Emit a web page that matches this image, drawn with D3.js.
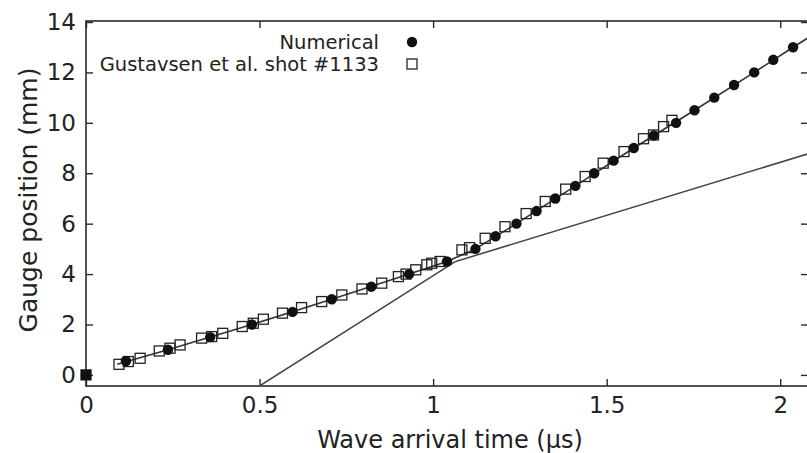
<!DOCTYPE html>
<html><head><meta charset="utf-8">
<script src="https://cdn.jsdelivr.net/npm/d3@7"></script>
<style>body{margin:0;background:#fff}svg{display:block}text{font-family:"DejaVu Sans",sans-serif;fill:#222}</style>
</head><body><svg id="c" width="807" height="453"></svg>
<script>
// Numerical (filled circles): time (µs), gauge position (mm)
const numT = [0,0.115,0.236,0.358,0.478,0.595,0.708,0.822,0.931,1.04,1.122,1.18,1.24,1.298,1.352,1.41,1.464,1.52,1.578,1.636,1.70,1.753,1.81,1.867,1.925,1.98,2.037];
const numX = [0,0.55,1.0,1.5,2.0,2.5,3.0,3.5,4.0,4.5,5.0,5.5,6.0,6.5,7.0,7.5,8.0,8.5,9.0,9.5,10.0,10.5,11.0,11.5,12.0,12.5,13.0];
// Gustavsen et al. shot #1133 (open squares)
const expT = [0,0.095,0.122,0.156,0.211,0.242,0.271,0.333,0.362,0.394,0.45,0.482,0.511,0.566,0.621,0.679,0.737,0.795,0.852,0.9,0.922,0.95,0.982,0.996,1.02,1.083,1.105,1.15,1.207,1.268,1.323,1.382,1.438,1.49,1.55,1.606,1.635,1.664,1.688];
const expX = [0,0.42,0.53,0.66,0.95,1.06,1.19,1.46,1.52,1.65,1.92,2.05,2.21,2.45,2.67,2.91,3.17,3.41,3.64,3.9,4.0,4.17,4.37,4.43,4.5,4.96,5.05,5.42,5.88,6.4,6.88,7.37,7.87,8.4,8.86,9.37,9.52,9.85,10.1];
// Fitted trajectory (black line)
const fitT = [0.09,0.236,0.478,0.708,0.931,1.04,1.122,1.24,1.41,1.578,1.753,1.925,2.037,2.08];
const fitX = [0.42,1.0,2.0,3.0,4.0,4.5,5.0,6.0,7.5,9.0,10.5,12.0,13.0,13.37];
// Wave-speed lines (gray)
const steepT = [0.5,1.065];
const steepX = [-0.44,4.5];
const slowT = [1.065,2.08];
const slowX = [4.5,8.77];
// Ticks
const xTicks = [0,0.5,1,1.5,2];
const xTickLabels = ["0","0.5","1","1.5","2"];
const yTicks = [0,2,4,6,8,10,12,14];
const legendLabels = ["Numerical","Gustavsen et al. shot #1133"];

const svg = d3.select("#c");
const L=86,R=808,T=21,B=386;
const x = d3.scaleLinear().domain([0,2.08]).range([L,R]);
const y = d3.scaleLinear().domain([-0.44,14.04]).range([B,T]);
const ink="#2a2a2a";

svg.append("defs").append("clipPath").attr("id","clip").append("rect")
  .attr("x",L).attr("y",T).attr("width",R-L).attr("height",B-T);

// axes with inward ticks (mirrored)
const tl=7;
svg.append("g").attr("transform",`translate(0,${B})`)
  .call(d3.axisBottom(x).tickValues(xTicks).tickSize(-tl).tickPadding(11).tickFormat((d,i)=>xTickLabels[i]))
  .call(g=>{g.select(".domain").remove();g.selectAll("line").attr("stroke",ink).attr("stroke-width",1.4);
    g.selectAll("text").attr("font-size",23).attr("fill",ink).attr("font-family","DejaVu Sans");});
svg.append("g").attr("transform",`translate(0,${T})`)
  .call(d3.axisTop(x).tickValues(xTicks).tickSize(-tl).tickFormat(""))
  .call(g=>{g.select(".domain").remove();g.selectAll("line").attr("stroke",ink).attr("stroke-width",1.4);});
svg.append("g").attr("transform",`translate(${L},0)`)
  .call(d3.axisLeft(y).tickValues(yTicks).tickSize(-tl).tickPadding(10))
  .call(g=>{g.select(".domain").remove();g.selectAll("line").attr("stroke",ink).attr("stroke-width",1.4);
    g.selectAll("text").attr("font-size",23).attr("fill",ink).attr("font-family","DejaVu Sans");});
svg.append("g").attr("transform",`translate(${R},0)`)
  .call(d3.axisRight(y).tickValues(yTicks).tickSize(-tl).tickFormat(""))
  .call(g=>{g.select(".domain").remove();g.selectAll("line").attr("stroke",ink).attr("stroke-width",1.4);});

svg.append("rect").attr("x",L).attr("y",T).attr("width",R-L).attr("height",B-T)
  .attr("fill","none").attr("stroke",ink).attr("stroke-width",1.6);

const plot = svg.append("g").attr("clip-path","url(#clip)");
const line = d3.line().x(d=>x(d[0])).y(d=>y(d[1]));
const zip=(a,b)=>a.map((v,i)=>[v,b[i]]);
plot.append("path").datum(zip(steepT,steepX)).attr("d",line).attr("fill","none").attr("stroke","#444").attr("stroke-width",1.5);
plot.append("path").datum(zip(slowT,slowX)).attr("d",line).attr("fill","none").attr("stroke","#444").attr("stroke-width",1.5);
plot.append("path").datum(zip(fitT,fitX)).attr("d",line).attr("fill","none").attr("stroke","#333").attr("stroke-width",1.6);

const pts = svg.append("g");
pts.selectAll("rect.e").data(zip(expT,expX)).join("rect").attr("class","e")
  .attr("x",d=>x(d[0])-5).attr("y",d=>y(d[1])-5).attr("width",10).attr("height",10)
  .attr("fill","none").attr("stroke","#222").attr("stroke-width",1.3);
pts.selectAll("circle").data(zip(numT,numX)).join("circle")
  .attr("cx",d=>x(d[0])).attr("cy",d=>y(d[1])).attr("r",5.2).attr("fill","#111");
// point at origin rendered as filled square
pts.append("rect").attr("x",x(0)-5).attr("y",y(0)-5).attr("width",10).attr("height",10).attr("fill","#111");

// legend
const lg = svg.append("g");
lg.append("text").attr("x",379).attr("y",49).attr("text-anchor","end").attr("font-size",19.5).text(legendLabels[0]);
lg.append("circle").attr("cx",412).attr("cy",42).attr("r",5.2).attr("fill","#111");
lg.append("text").attr("x",379).attr("y",71).attr("text-anchor","end").attr("font-size",19.5).text(legendLabels[1]);
lg.append("rect").attr("x",407).attr("y",59).attr("width",10).attr("height",10).attr("fill","none").attr("stroke","#222").attr("stroke-width",1.3);

// axis titles
svg.append("text").attr("x",450).attr("y",448).attr("text-anchor","middle").attr("font-size",24).text("Wave arrival time (µs)");
svg.append("text").attr("transform","translate(37,200) rotate(-90)").attr("text-anchor","middle").attr("font-size",25).text("Gauge position (mm)");
</script></body></html>
